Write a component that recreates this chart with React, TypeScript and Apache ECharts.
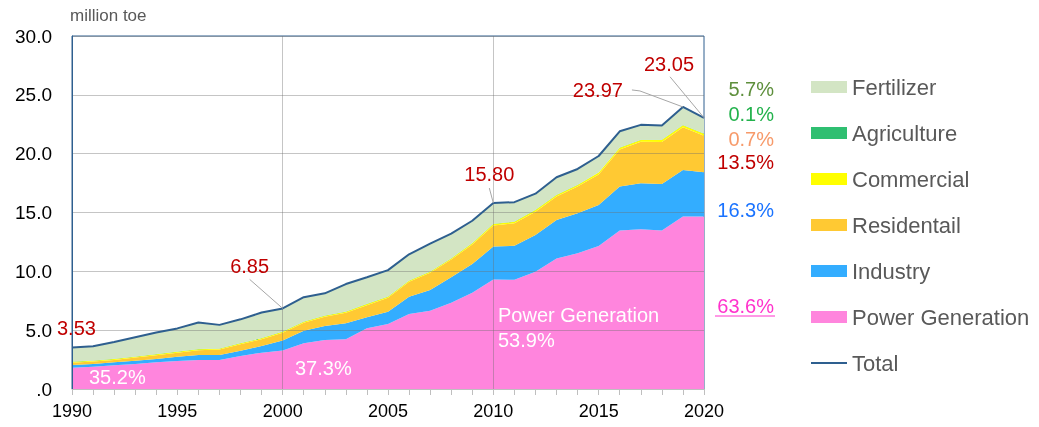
import React, { useEffect, useRef } from "react";
import * as echarts from "echarts";

const years = ["1990","1991","1992","1993","1994","1995","1996","1997","1998","1999","2000","2001","2002","2003","2004","2005","2006","2007","2008","2009","2010","2011","2012","2013","2014","2015","2016","2017","2018","2019","2020"];
const powerGeneration = [1.81,1.90,2.01,2.12,2.27,2.38,2.46,2.46,2.80,3.09,3.28,3.88,4.16,4.22,5.16,5.52,6.37,6.66,7.34,8.19,9.30,9.28,9.97,11.10,11.53,12.15,13.46,13.57,13.46,14.65,14.66];
const industry = [0.23,0.22,0.26,0.29,0.28,0.37,0.43,0.43,0.46,0.56,0.85,1.08,1.19,1.36,0.93,1.05,1.48,1.75,2.15,2.43,2.80,2.90,3.12,3.26,3.40,3.49,3.74,3.91,3.96,3.96,3.76];
const residential = [0.20,0.21,0.20,0.26,0.32,0.34,0.40,0.46,0.54,0.58,0.64,0.66,0.78,0.89,1.03,1.18,1.26,1.46,1.51,1.66,1.79,1.91,1.98,1.99,2.27,2.60,3.16,3.53,3.58,3.64,3.11];
const commercial = [0.08,0.08,0.08,0.08,0.08,0.08,0.08,0.08,0.08,0.08,0.10,0.10,0.10,0.10,0.10,0.10,0.10,0.10,0.10,0.10,0.13,0.13,0.14,0.14,0.14,0.15,0.15,0.15,0.16,0.16,0.16];
const agriculture = [0.02,0.02,0.02,0.02,0.02,0.02,0.02,0.02,0.02,0.02,0.02,0.02,0.02,0.02,0.02,0.02,0.02,0.02,0.02,0.02,0.02,0.02,0.02,0.02,0.02,0.02,0.02,0.02,0.02,0.02,0.02];
const fertilizer = [1.19,1.20,1.43,1.63,1.83,1.96,2.26,2.00,2.02,2.17,1.96,2.06,1.88,2.33,2.26,2.23,2.22,2.36,2.08,1.90,1.76,1.64,1.37,1.49,1.34,1.39,1.37,1.27,1.22,1.54,1.34];
const total = [3.53,3.63,4.00,4.40,4.80,5.15,5.65,5.45,5.92,6.50,6.85,7.80,8.13,8.92,9.50,10.10,11.45,12.35,13.20,14.30,15.80,15.88,16.60,18.00,18.70,19.80,21.90,22.45,22.40,23.97,23.05];

const yTicks = [0, 5, 10, 15, 20, 25, 30];
const shareLabels = [
  { text: "5.7%", color: "#5e8f3c", y: 89 },
  { text: "0.1%", color: "#22b24c", y: 114 },
  { text: "0.7%", color: "#f79a6a", y: 139 },
  { text: "13.5%", color: "#c00000", y: 162 },
  { text: "16.3%", color: "#1a73ff", y: 210 },
  { text: "63.6%", color: "#ff33cc", y: 306 },
];
const callouts = ["1990", "2000", "2010", "2019", "2020"];

const FONT = "'Liberation Sans', Arial, sans-serif";

export default function App() {
  const ref = useRef<HTMLDivElement>(null);
  useEffect(() => {
    if (!ref.current) return;
    const chart = echarts.init(ref.current, null, { renderer: "svg" });
    const area = (name: string, data: number[], color: string) => ({
      name,
      type: "line",
      stack: "s",
      data,
      symbol: "none",
      lineStyle: { width: 0 },
      areaStyle: { color, opacity: 1 },
      itemStyle: { color },
      z: 2,
    });
    chart.setOption({
      animation: false,
      textStyle: { fontFamily: FONT },
      grid: {
        left: 72, top: 36, width: 632, height: 353,
        show: true, borderColor: "#2e5f8f", borderWidth: 1, backgroundColor: "transparent",
      },
      legend: {
        orient: "vertical",
        left: 811,
        top: 75,
        padding: 0,
        itemWidth: 36,
        itemHeight: 12,
        itemGap: 22,
        textStyle: { fontSize: 22, color: "#595959", fontFamily: FONT, lineHeight: 24 },
        data: [
          { name: "Fertilizer", icon: "rect" },
          { name: "Agriculture", icon: "rect" },
          { name: "Commercial", icon: "rect" },
          { name: "Residentail", icon: "rect" },
          { name: "Industry", icon: "rect" },
          { name: "Power Generation", icon: "rect" },
          { name: "Total", icon: "path://M0,0L36,0L36,2L0,2Z" },
        ],
      },
      xAxis: {
        type: "category",
        data: years,
        boundaryGap: false,
        axisLine: { lineStyle: { color: "#bfbfbf" } },
        axisTick: { show: true, interval: 0, length: 6, lineStyle: { color: "#bfbfbf" } },
        axisLabel: { interval: 4, fontSize: 18, color: "#000", margin: 13, fontFamily: FONT },
        splitLine: {
          show: true,
          interval: (i: number) => i % 10 === 0 && i !== 0 && i !== years.length - 1,
          lineStyle: { color: "rgba(110,110,110,0.4)" },
        },
        z: 3,
      },
      yAxis: {
        type: "value",
        min: yTicks[0],
        max: yTicks[yTicks.length - 1],
        interval: 5,
        name: "million toe",
        nameLocation: "end",
        nameGap: 12,
        nameTextStyle: { align: "left", color: "#595959", fontSize: 17, fontFamily: FONT, padding: [0, 0, 0, -2] },
        axisLine: { show: true, lineStyle: { color: "#2e5f8f" } },
        axisTick: { show: false },
        axisLabel: {
          fontSize: 19, color: "#000", margin: 20, fontFamily: FONT,
          formatter: (v: number) => (v === 0 ? ".0" : v.toFixed(1)),
        },
        splitLine: { show: true, lineStyle: { color: "rgba(110,110,110,0.4)" } },
        z: 3,
      },
      series: [
        area("Power Generation", powerGeneration, "#ff85dd"),
        area("Industry", industry, "#33adff"),
        area("Residentail", residential, "#ffc933"),
        area("Commercial", commercial, "#ffff00"),
        area("Agriculture", agriculture, "#2fbf71"),
        area("Fertilizer", fertilizer, "#d3e5c4"),
        {
          name: "Total",
          type: "line",
          data: total,
          symbol: "none",
          lineStyle: { color: "#2e5f8f", width: 2 },
          itemStyle: { color: "#2e5f8f" },
          z: 5,
        },
      ],
    });

    const pt = (year: string) => {
      const i = years.indexOf(year);
      return chart.convertToPixel({ xAxisIndex: 0, yAxisIndex: 0 }, [i, total[i]]) as number[];
    };
    const red = "#c00000";
    const txt = (text: string, x: number, y: number, fill: string, align = "left", size = 20) => ({
      type: "text",
      z: 10,
      style: { text, x, y, fill, fontSize: size, fontFamily: FONT, align, verticalAlign: "middle" },
    });
    const seg = (pts: number[][]) => ({
      type: "polyline",
      z: 9,
      shape: { points: pts },
      style: { stroke: "#a6a6a6", lineWidth: 1, fill: "none" },
    });
    const [p90, p00, p10, p19, p20] = callouts.map(pt);
    const elements: any[] = [
      txt(total[0].toFixed(2), p90[0] - 15, p90[1] - 19, red),
      seg([[p00[0] - 33, p00[1] - 29], p00]),
      txt(total[10].toFixed(2), p00[0] - 33, p00[1] - 42, red, "center"),
      seg([[p10[0] - 4, p10[1] - 15], p10]),
      txt(total[20].toFixed(2), p10[0] - 4, p10[1] - 29, red, "center"),
      seg([[p19[0] - 51, p19[1] - 17], [p19[0] - 43, p19[1] - 16], p19]),
      txt(total[29].toFixed(2), p19[0] - 60, p19[1] - 17, red, "right"),
      seg([[p20[0] - 34, p20[1] - 41], p20]),
      txt(total[30].toFixed(2), p20[0] - 35, p20[1] - 54, red, "center"),
      txt("35.2%", 89, 377, "#ffffff"),
      txt("37.3%", 295, 368, "#ffffff"),
      txt("Power Generation", 498, 315, "#ffffff"),
      txt("53.9%", 498, 340, "#ffffff"),
    ];
    shareLabels.forEach((s) => elements.push(txt(s.text, 774, s.y, s.color, "right")));
    elements.push({
      type: "line", z: 10,
      shape: { x1: 715, y1: 316, x2: 775, y2: 316 },
      style: { stroke: "#ff33cc", lineWidth: 1 },
    });
    chart.setOption({ graphic: { elements } });

    return () => chart.dispose();
  }, []);
  return <div ref={ref} style={{ position: "fixed", left: 0, top: 0, width: 1039, height: 427 }} />;
}
